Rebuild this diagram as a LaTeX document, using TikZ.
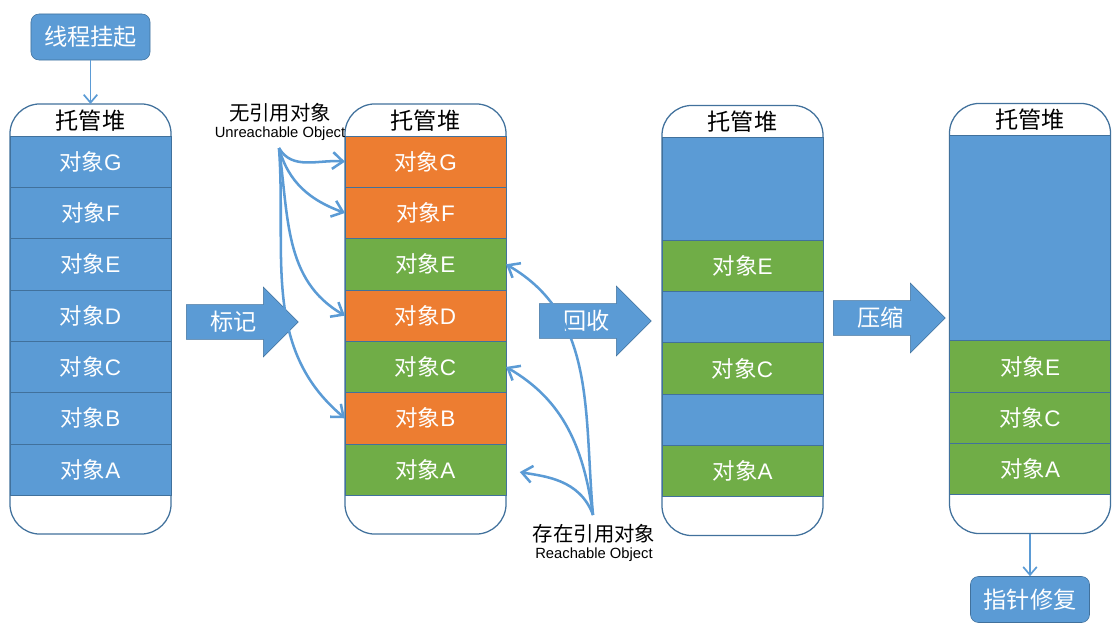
\documentclass[tikz,border=0pt]{standalone}
\usepackage{fontspec}
\setmainfont{Liberation Sans}
\newfontfamily\cjk{Noto Sans CJK SC}
\usetikzlibrary{shapes.arrows,arrows.meta,positioning}

\definecolor{objblue}{HTML}{5B9BD5}
\definecolor{objorange}{HTML}{ED7D31}
\definecolor{objgreen}{HTML}{70AD47}
\definecolor{edgeblue}{HTML}{41719C}

\newcommand{\obj}[1]{{\cjk 对象}#1}

\begin{document}
\begin{tikzpicture}[x=0.025cm, y=-0.025cm,
    heap/.style    = {rectangle, rounded corners=0.75cm, draw=edgeblue,
                      line width=0.9pt, fill=white, minimum width=4.025cm,
                      minimum height=10.75cm, inner sep=0pt, outer sep=0pt},
    hdr/.style     = {minimum height=0.8cm, inner sep=0pt,
                      font=\cjk\fontsize{16.5}{18}\selectfont},
    cell/.style    = {rectangle, draw=edgeblue, line width=0.6pt,
                      minimum width=4.025cm, minimum height=1.283cm,
                      inner sep=0pt, outer sep=0pt, text=white,
                      font=\fontsize{16}{18}\selectfont},
    live/.style    = {cell, fill=objgreen},
    dead/.style    = {cell, fill=objorange},
    free/.style    = {cell, fill=objblue},
    stepbox/.style = {rectangle, rounded corners=0.2cm, draw=edgeblue,
                      fill=objblue, minimum width=2.975cm, minimum height=1.15cm,
                      text=white, font=\cjk\fontsize{16.5}{18}\selectfont},
    phase/.style   = {single arrow, draw=edgeblue, fill=objblue, text=white,
                      font=\cjk\fontsize{16.5}{18}\selectfont,
                      single arrow head extend=0.44cm, text height=0.5cm,
                      text depth=0.1cm, inner ysep=0.125cm, inner xsep=0.1cm,
                      minimum height=2.8cm, anchor=tail},
    link/.style    = {draw=objblue, line width=1.2pt,
                      -{Straight Barb[length=2mm,width=3.4mm]}},
    ref/.style     = {link, line width=1.8pt,
                      -{Straight Barb[length=2.6mm,width=4.2mm]}},
    note/.style    = {align=center, inner sep=0pt,
                      font=\fontsize{10.5}{12}\selectfont}
  ]
  \useasboundingbox (0,0) rectangle (1120,632);

  % heap before marking
  \node[heap] (heap1) at (90.5,319) {};
  \node[hdr, below=0pt of heap1.north] (hdr1) {托管堆};
  \node[free, below=0.8cm of heap1.north] (g1) {\obj{G}};
  \node[free, below=0pt of g1] (f1) {\obj{F}};
  \node[free, below=0pt of f1] (e1) {\obj{E}};
  \node[free, below=0pt of e1] (d1) {\obj{D}};
  \node[free, below=0pt of d1] (c1) {\obj{C}};
  \node[free, below=0pt of c1] (b1) {\obj{B}};
  \node[free, below=0pt of b1] (a1) {\obj{A}};

  % heap after marking
  \node[heap] (heap2) at (425.5,319) {};
  \node[hdr, below=0pt of heap2.north] (hdr2) {托管堆};
  \node[dead, below=0.8cm of heap2.north] (g2) {\obj{G}};
  \node[dead, below=0pt of g2] (f2) {\obj{F}};
  \node[live, below=0pt of f2] (e2) {\obj{E}};
  \node[dead, below=0pt of e2] (d2) {\obj{D}};
  \node[live, below=0pt of d2] (c2) {\obj{C}};
  \node[dead, below=0pt of c2] (b2) {\obj{B}};
  \node[live, below=0pt of b2] (a2) {\obj{A}};

  % heap after sweeping
  \node[heap] (heap3) at (742.5,320.5) {};
  \node[hdr, below=0pt of heap3.north] (hdr3) {托管堆};
  \node[free, minimum height=2.566cm, below=0.8cm of heap3.north] (gap3a) {};
  \node[live, below=0pt of gap3a] (e3) {\obj{E}};
  \node[free, below=0pt of e3] (gap3b) {};
  \node[live, below=0pt of gap3b] (c3) {\obj{C}};
  \node[free, below=0pt of c3] (gap3c) {};
  \node[live, below=0pt of gap3c] (a3) {\obj{A}};

  % heap after compacting
  \node[heap] (heap4) at (1030,318.5) {};
  \node[hdr, below=0pt of heap4.north] (hdr4) {托管堆};
  \node[free, minimum height=5.132cm, below=0.8cm of heap4.north] (gap4) {};
  \node[live, below=0pt of gap4] (e4) {\obj{E}};
  \node[live, below=0pt of e4] (c4) {\obj{C}};
  \node[live, below=0pt of c4] (a4) {\obj{A}};

  % steps
  \node[stepbox] (suspend) at (90.5,37) {线程挂起};
  \node[stepbox] (fix) at (1030,599.5) {指针修复};
  \node[phase] (mark) at (186,322) {标记};
  \node[phase] (sweep) at (539,321) {回收};
  \node[phase] (compact) at (833,318) {压缩};

  % labels
  \node[note] (unref) at (280,122) {{\cjk\fontsize{14.5}{17}\selectfont 无引用对象}\\Unreachable Object};
  \node[note] (reach) at (594,543) {{\cjk\fontsize{14.5}{17}\selectfont 存在引用对象}\\Reachable Object};
  \coordinate (unrefsrc) at (279,148);
  \coordinate (reachsrc) at (593,515);

  \draw[link] (suspend) -- (heap1);
  \draw[link] (heap4) -- (fix);
  \draw[ref] (unrefsrc) to[out=-60, in=175] (g2.west);
  \draw[ref] (unrefsrc) to[out=-75, in=160] (f2.west);
  \draw[ref] (unrefsrc) to[out=-82, in=150] (d2.west);
  \draw[ref] (unrefsrc) to[out=-86, in=140] (b2.west);
  \draw[ref] (reachsrc) to[out=95, in=-30] (e2.east);
  \draw[ref] (reachsrc) to[out=98, in=-30] (c2.east);
  \draw[ref, shorten >=0.35cm] (reachsrc) to[out=110, in=-10] (a2.east);
\end{tikzpicture}
\end{document}
